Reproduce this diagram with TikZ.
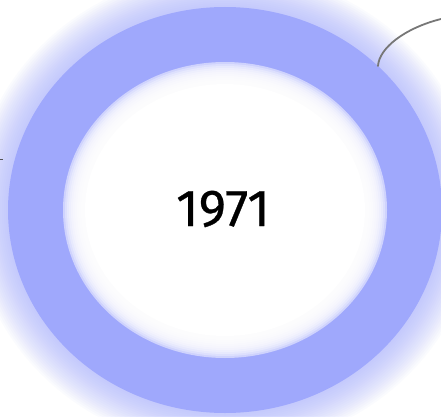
\documentclass[tikz,border=0pt]{standalone}
\usepackage{fontspec}
\setmainfont{Fira Sans}
\newfontfamily\yearfont[FakeBold=0.6]{Fira Sans}
\definecolor{ringc}{HTML}{9FA8FC}
\definecolor{linec}{HTML}{777777}
\begin{document}
\begin{tikzpicture}[x=1pt,y=1pt,
  conn/.style={draw=linec,line width=1.8pt,line cap=round},
  label/.style={font=\yearfont\fontsize{52}{58}\selectfont,text=black}]
\useasboundingbox (0,0) rectangle (441,416);
\fill[white] (0,0) rectangle (441,416);
\begin{scope}[shift={(225,206)}]
  % outer glow
  \foreach \i in {18,17,...,1}{
    \fill[ringc,opacity=0.045] (0,0) ellipse [x radius={217+2*\i}, y radius={203+2*\i}];
  }
  \fill[ringc] (0,0) ellipse [x radius=217, y radius=203];
  % inner glow
  \fill[ringc!50] (0,0) ellipse [x radius=162, y radius=148];
  \foreach \i in {1,...,10}{
    \fill[white,opacity=0.3] (0,0) ellipse [x radius={162-2*\i}, y radius={148-2*\i}];
  }
  \fill[white] (0,0) ellipse [x radius=140, y radius=126];
\end{scope}
\node[label] (year) at (223,207) {1971};
\coordinate (cA) at (378,350);
\coordinate (cB) at (441,397);
\draw[conn] (cA) .. controls (379,368) and (405,388) .. (cB);
\coordinate (dA) at (0,256.5);
\coordinate (dB) at (2.5,256.5);
\draw[draw=linec!70!black,line width=1pt] (dA) -- (dB);
\end{tikzpicture}
\end{document}
